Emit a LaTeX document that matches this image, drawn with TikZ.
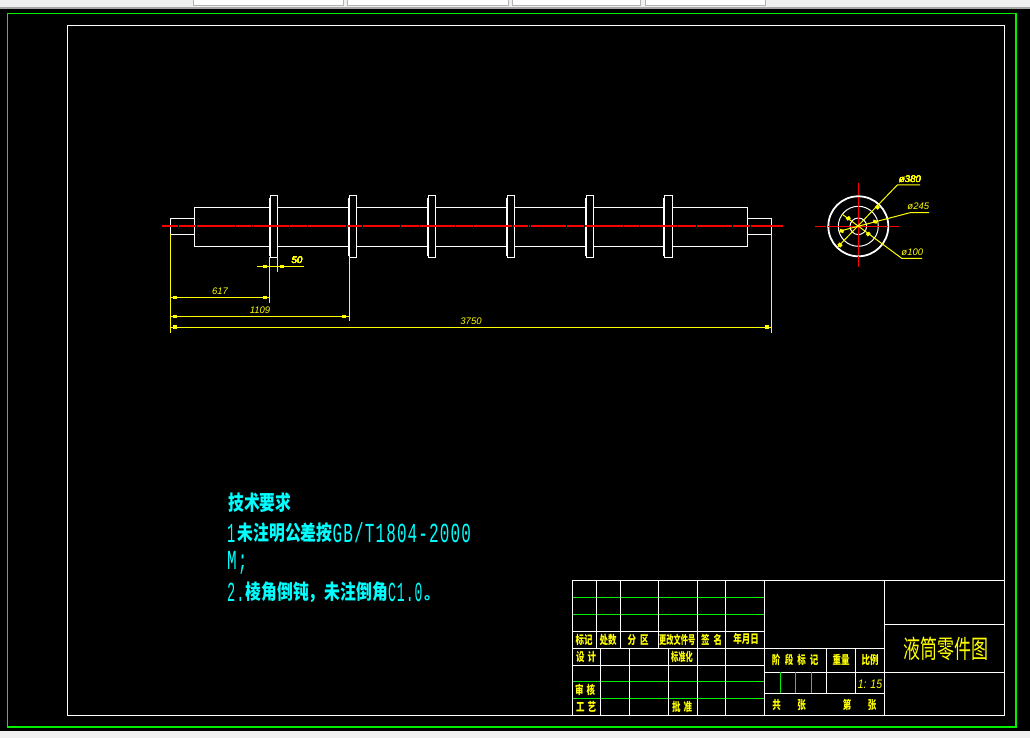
\documentclass[tikz,border=0pt]{standalone}
\usepackage{graphicx}
\usepackage{fontspec}
\setmainfont{Liberation Sans}
\newfontfamily\cjk{Noto Sans CJK SC}
\newfontfamily\cadmono[LetterSpace=7]{Liberation Mono}
\definecolor{cadyellow}{RGB}{255,255,0}
\definecolor{cadcyan}{RGB}{0,255,255}
\definecolor{cadgreen}{RGB}{0,240,0}
\definecolor{cadred}{RGB}{250,0,0}
\definecolor{wingray}{RGB}{240,240,240}
\tikzset{
  partline/.style={white,line width=1pt},
  greenline/.style={cadgreen,line width=1.1pt},
  dimline/.style={cadyellow,line width=1pt},
  centerline/.style={cadred,line width=1.1pt},
  dimtext/.style={cadyellow,inner sep=0pt,font=\fontsize{9.5}{10}\selectfont\itshape},
  blocktext/.style={cadyellow,inner sep=0pt,font=\cjk\fontsize{8.5}{10}\selectfont\bfseries},
  techtext/.style={cadcyan,inner sep=0pt,anchor=west},
}
\newcommand{\techcjk}[1]{\scalebox{1}[1.3]{\cjk\bfseries\fontsize{15.8}{18}\selectfont #1}}
\newcommand{\techlat}[2][1]{\scalebox{#1}[1.72]{\cadmono\fontsize{16}{18}\selectfont #2}}
\newcommand{\blk}[2][1]{\scalebox{#1}[1.4]{#2}}
\newcommand{\dimtick}[3][0]{\fill[cadyellow,shift={(#2,#3)},rotate=#1] (-2,-1.6) rectangle (2,1.6);}
\begin{document}
\begin{tikzpicture}[x=1pt,y=-1pt]
\useasboundingbox (0,0) rectangle (1030,738);
% window behind the drawing
\fill[wingray] (0,0) rectangle (1030,738);
\foreach \xa/\xb in {193/343,347/508,512/640,645/765}
  \draw[gray!60,fill=white] (\xa,-2) rectangle (\xb,5);
\fill[gray!70] (0,7) rectangle (1030,9);
\fill[black] (0,9) rectangle (1030,731);
% frames
\draw[greenline] (7.5,13.5) rectangle (1016,727);
\draw[partline] (67.5,25.5) rectangle (1004.5,715);
% shaft
\draw[partline] (170.5,218) rectangle (194,234);
\draw[partline] (747.5,218) rectangle (771.5,234);
\draw[partline] (194,207) rectangle (747.5,246);
\foreach \xf in {270,349,428,507,586,664.5} {
  \draw[partline,fill=black] (\xf,196) rectangle (\xf+7.5,257);
  \draw[partline] (\xf-0.8,198) -- (\xf-0.8,256);
}
\draw[centerline,dash pattern=on 15.6pt off .7pt on .7pt off .7pt on 35.6pt off .7pt on .7pt off .7pt,dash phase=37pt] (162,226) -- (783,226);
% extension lines
\draw[dimline] (170.5,234) -- (170.5,333);
\draw[dimline] (771.5,234) -- (771.5,333);
\draw[dimline] (269.5,257) -- (269.5,303);
\draw[dimline] (277.5,257) -- (277.5,272);
\draw[dimline] (349,257) -- (349,321);
% dimensions
\draw[dimline] (257,266.5) -- (304,266.5);
\draw[dimline] (170.5,297.5) -- (269.5,297.5);
\draw[dimline] (170.5,316.5) -- (349,316.5);
\draw[dimline] (170.5,327) -- (771.5,327);
\foreach \xt/\yt in {264.7/266.5,282/266.5,175/297.5,264.7/297.5,175/316.5,343.7/316.5,175/327,766.7/327}
  \dimtick{\xt}{\yt}
\node[dimtext] (dimfifty) at (297,260) {50};
\node[dimtext] (dimfirst) at (220,291.5) {617};
\node[dimtext] (dimsecond) at (260,310) {1109};
\node[dimtext] (dimtotal) at (471,321.5) {3750};
% end view
\draw[white,line width=1.8pt] (858.3,226.3) circle[radius=30];
\draw[partline] (858.3,226.3) circle[radius=20];
\draw[partline] (858.3,226.3) circle[radius=8.3];
\draw[centerline,dash pattern=on 11pt off 1.5pt on 60pt off 1.5pt on 20pt] (815,226.3) -- (899,226.3);
\draw[centerline,dash pattern=on 12pt off 1.5pt on 58pt off 1.5pt on 20pt] (858.3,183.3) -- (858.3,266.7);
\draw[dimline] (837,247.7) -- (897.3,185) -- (920,185);
\draw[dimline] (839,231.3) -- (910,212.7) -- (929,212.7);
\draw[dimline] (842.3,214.3) -- (901.7,258.3) -- (922,258.3);
\foreach \xt/\yt/\at in {840/245/-45,877.3/207.3/-45,841.7/231/-15,875/221.7/-15,848.3/218.3/37,868.3/234/37}
  \dimtick[\at]{\xt}{\yt}
\node[dimtext] (diaouter) at (910,179.7) {ø380};
\node[dimtext] (diamiddle) at (918.3,206) {ø245};
\node[dimtext] (diainner) at (912.3,252.7) {ø100};
% notes
\node[techtext] (techtitle) at (228,502.5) {\techcjk{技术要求}};
\node[techtext] (techone) at (227,533) {\techlat[.85]{1}};
\node[techtext] (techonecn) at (237.5,533) {\techcjk{未注明公差按}};
\node[techtext] (techonelat) at (332.5,533) {\techlat{GB/T1804-2000}};
\node[techtext] (techm) at (227,563) {\techlat{M;}};
\node[techtext] (techtwo) at (227,592.5) {\techlat[.85]{2.}};
\node[techtext] (techtwocn) at (245.5,592.5) {\techcjk{棱角倒钝，未注倒角}};
\node[techtext] (techtwolat) at (388,592.5) {\techlat[.82]{C1.0}};
\node[techtext,font=\cjk\fontsize{15.8}{18}\selectfont\bfseries] (techstop) at (424,598) {。};
% title block, left part
\foreach \yr in {597.3,614.3,681.7,698.3}
  \draw[greenline] (572.3,\yr) -- (764.3,\yr);
\foreach \yr in {631.3,648.3,665.3}
  \draw[partline] (572.3,\yr) -- (764.3,\yr);
\foreach \xr in {596.3,620.3,658.3}
  \draw[partline] (\xr,580.3) -- (\xr,648.3);
\foreach \xr in {600.3,629.3,668.3}
  \draw[partline] (\xr,648.3) -- (\xr,715);
\foreach \xr in {697.3,725.3}
  \draw[partline] (\xr,580.3) -- (\xr,715);
% title block, right part
\draw[partline] (572.3,580.3) rectangle (1004.5,715);
\draw[partline] (764.3,580.3) -- (764.3,715);
\draw[partline] (884.3,580.3) -- (884.3,715);
\draw[partline] (764.3,648.3) -- (884.3,648.3);
\draw[partline] (884.3,624.3) -- (1004.5,624.3);
\draw[partline] (764.3,672.3) -- (1004.5,672.3);
\draw[partline] (764.3,693.3) -- (884.3,693.3);
\draw[partline] (826.3,648.3) -- (826.3,693.3);
\draw[partline] (855.3,648.3) -- (855.3,693.3);
\foreach \xr in {780.3,795.3,811.3}
  \draw[greenline] (\xr,672.3) -- (\xr,693.3);
% title block texts
\node[blocktext] (marklabel) at (584,640) {\blk{标记}};
\node[blocktext] (countlabel) at (608,640) {\blk{处数}};
\node[blocktext] (zonelabel) at (638,640) {\blk{分\hspace{4pt}区}};
\node[blocktext] (filelabel) at (677.3,640) {\blk[.85]{更改文件号}};
\node[blocktext] (signlabel) at (711.7,640) {\blk{签\hspace{4pt}名}};
\node[blocktext] (datelabel) at (746,639) {\blk{年月日}};
\node[blocktext] (designlabel) at (586,657) {\blk{设\hspace{3pt}计}};
\node[blocktext] (stdlabel) at (682,657) {\blk[.85]{标准化}};
\node[blocktext] (checklabel) at (585,690) {\blk{审\hspace{3pt}核}};
\node[blocktext] (craftlabel) at (586,707) {\blk{工\hspace{3pt}艺}};
\node[blocktext] (approvelabel) at (682,707) {\blk{批\hspace{3pt}准}};
\node[blocktext] (stagea) at (776,660) {\blk{阶}};
\node[blocktext] (stageb) at (789,660) {\blk{段}};
\node[blocktext] (stagec) at (801.7,660) {\blk{标}};
\node[blocktext] (staged) at (814,660) {\blk{记}};
\node[blocktext] (weightlabel) at (841,660) {\blk{重量}};
\node[blocktext] (scalelabel) at (870,660) {\blk{比例}};
\node[dimtext] (scalevalue) at (870,684) {\scalebox{1.1}[1.3]{1: 15}};
\node[blocktext] (totala) at (776.7,705) {\blk{共}};
\node[blocktext] (totalb) at (801.7,705) {\blk{张}};
\node[blocktext] (sheeta) at (847,705) {\blk{第}};
\node[blocktext] (sheetb) at (872,705) {\blk{张}};
\node[cadyellow,inner sep=0pt,font=\cjk\fontsize{17}{18}\selectfont] (partname) at (945.5,649) {\scalebox{1}[1.5]{液筒零件图}};
\end{tikzpicture}
\end{document}
